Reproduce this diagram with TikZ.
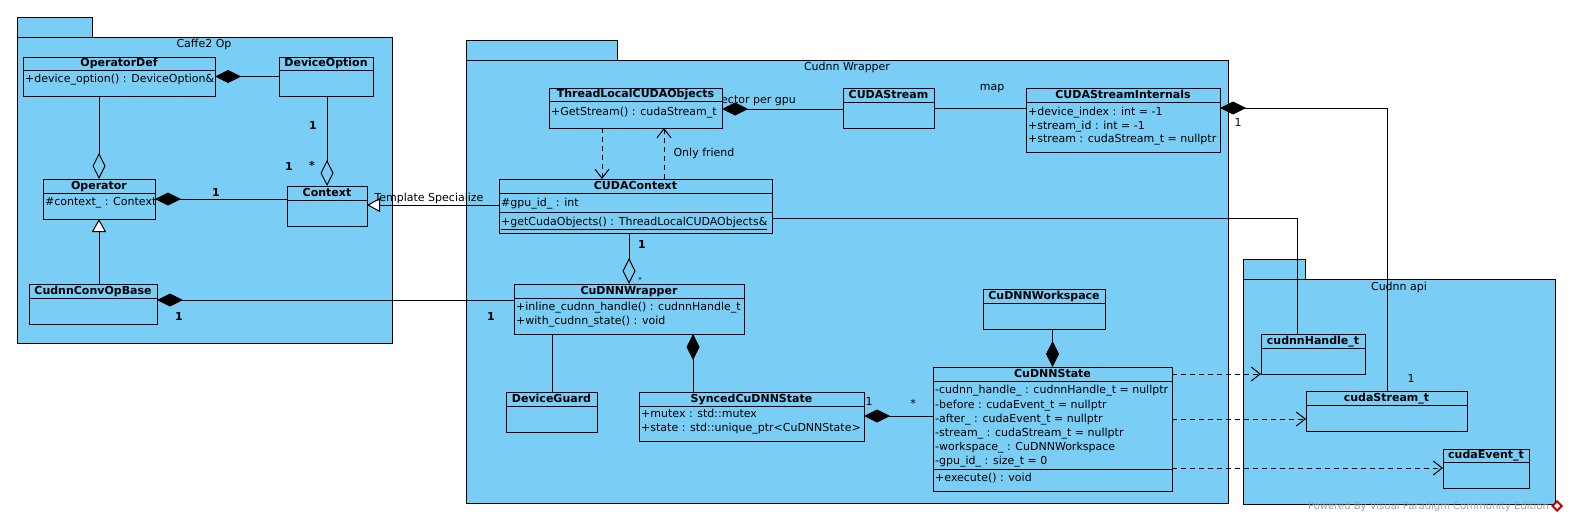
\documentclass[tikz,border=0pt]{standalone}
\usepackage{fontspec}
\setmainfont{DejaVu Sans}
\usetikzlibrary{arrows.meta}
\definecolor{umlblue}{RGB}{122,205,244}
\definecolor{wmgray}{RGB}{160,160,160}
\pgfdeclarelayer{bg}
\pgfdeclarelayer{conn}
\pgfsetlayers{bg,conn,main}
\newcommand\umlclass[7]{%
  \node[clsbox, anchor=north west, minimum width={(#4-#2)*1pt}, minimum height={(#5-#3)*1pt}] (#1) at (#2,#3) {};
  \draw[clsline] (#2,#6) -- (#4,#6);
  \node[clstitle] at ({(#2+#4)/2},{(#3+#6)/2}) {#7};
}
\newcommand\umlline[3]{\node[clstext] at (#1,#2) {#3};}
\tikzset{
  clsbox/.style={draw=black, fill=umlblue, line width=1pt, inner sep=0pt, outer sep=0pt},
  clsline/.style={line width=1pt},
  txt/.style={inner sep=0pt, text height=8pt, text depth=1.5pt},
  clstitle/.style={txt, font=\fontsize{11}{13}\selectfont\bfseries},
  clstext/.style={txt, anchor=west, font=\fontsize{11}{13}\selectfont},
  lbl/.style={txt, font=\fontsize{11}{13}\selectfont},
  mult/.style={txt, font=\fontsize{11}{13}\selectfont\bfseries},
  pkg/.style={draw=black, fill=umlblue, line width=1pt},
  conn/.style={line width=1pt},
  comp/.style={conn, -{Diamond[length=26pt,width=13pt]}},
  agg/.style={conn, -{Diamond[open,length=26pt,width=13pt]}},
  inh/.style={conn, -{Triangle[length=13pt,width=14pt,fill=white]}},
  dep/.style={conn, dash pattern=on 5pt off 4pt, -{Straight Barb[length=9pt,width=14pt]}},
}
\begin{document}
\begin{tikzpicture}[x=1pt,y=-1pt]
\useasboundingbox (0,0) rectangle (1573,522);
% packages
\begin{pgfonlayer}{bg}
\fill[white] (0,0) rectangle (1573,522);
\draw[pkg] (17,17) rectangle (92,37);
\draw[pkg] (17,37) rectangle (392,343);
\node[lbl] (p1title) at (204,44.5) {Caffe2 Op};
\draw[pkg] (466,40) rectangle (617,60);
\draw[pkg] (466,60) rectangle (1228,503);
\node[lbl] (p2title) at (847,67.5) {Cudnn Wrapper};
\draw[pkg] (1243,259) rectangle (1305,279);
\draw[pkg] (1243,279) rectangle (1555,504);
\node[lbl] (p3title) at (1399,287) {Cudnn api};
\end{pgfonlayer}
% classes
\umlclass{opdef}{23}{57}{215}{96}{70}{OperatorDef}
\umlline{25}{79.5}{+device\_option() : DeviceOption\&}
\umlclass{dopt}{279}{57}{373}{96}{70}{DeviceOption}
\umlclass{oper}{43}{179}{155}{219}{193}{Operator}
\umlline{45}{202.5}{\#context\_ : Context}
\umlclass{ctx}{287}{186}{367}{226}{200}{Context}
\umlclass{ccob}{29}{284}{157}{324}{298}{CudnnConvOpBase}
\umlclass{tlco}{549}{88}{722}{128}{101}{ThreadLocalCUDAObjects}
\umlline{551}{112}{+GetStream() : cudaStream\_t}
\umlclass{cstream}{843}{88}{934}{128}{102}{CUDAStream}
\umlclass{csi}{1026}{88}{1220}{152}{102}{CUDAStreamInternals}
\umlline{1028}{112.5}{+device\_index : int = -1}
\umlline{1028}{126}{+stream\_id : int = -1}
\umlline{1028}{139.5}{+stream : cudaStream\_t = nullptr}
\umlclass{cctx}{499}{179}{772}{233}{193}{CUDAContext}
\draw[clsline] (499,212) -- (772,212);
\umlline{501}{203}{\#gpu\_id\_ : int}
\umlline{501}{222}{\underline{+getCudaObjects() : ThreadLocalCUDAObjects\&}}
\umlclass{cwrap}{514}{284}{744}{334}{298}{CuDNNWrapper}
\umlline{516}{307.5}{+inline\_cudnn\_handle() : cudnnHandle\_t}
\umlline{516}{321.5}{+with\_cudnn\_state() : void}
\umlclass{dguard}{506}{392}{597}{432}{406}{DeviceGuard}
\umlclass{sync}{639}{392}{864}{441}{406}{SyncedCuDNNState}
\umlline{641}{414.5}{+mutex : std::mutex}
\umlline{641}{428.5}{+state : std::unique\_ptr<CuDNNState>}
\umlclass{wksp}{983}{289}{1105}{329}{303}{CuDNNWorkspace}
\umlclass{cstate}{933}{367}{1172}{491}{381}{CuDNNState}
\draw[clsline] (933,469) -- (1172,469);
\umlline{935}{390.5}{-cudnn\_handle\_ : cudnnHandle\_t = nullptr}
\umlline{935}{405}{-before : cudaEvent\_t = nullptr}
\umlline{935}{419}{-after\_ : cudaEvent\_t = nullptr}
\umlline{935}{433}{-stream\_ : cudaStream\_t = nullptr}
\umlline{935}{447}{-workspace\_ : CuDNNWorkspace}
\umlline{935}{461.5}{-gpu\_id\_ : size\_t = 0}
\umlline{935}{478.5}{+execute() : void}
\umlclass{chandle}{1261}{334}{1365}{374}{348}{cudnnHandle\_t}
\umlclass{cstr}{1306}{391}{1467}{431}{405}{cudaStream\_t}
\umlclass{cevent}{1443}{449}{1529}{488}{462}{cudaEvent\_t}
% connectors
\begin{pgfonlayer}{conn}
\draw[comp] (dopt.west) -- (opdef.east);
\draw[agg] (opdef.south -| oper.north) -- (oper.north);
\draw[agg] (dopt.south -| ctx.north) -- (ctx.north);
\draw[comp] (ctx.west |- oper.east) -- (oper.east);
\draw[inh] (ccob.north -| oper.south) -- (oper.south);
\draw[comp] (cwrap.west |- 0,300) -- (ccob.east |- 0,300);
\draw[inh] (cctx.west |- 0,205) -- (ctx.east |- 0,205);
\node[lbl, anchor=east] (vpg) at (796,100) {vector per gpu};
\draw[comp] (cstream.west |- 0,109) -- (tlco.east |- 0,109);
\draw[conn] (cstream.east |- 0,108) -- (csi.west |- 0,108);
\draw[comp] (cstr.north -| 1387,0) |- (csi.east |- 0,108);
\draw[dep] (tlco.south -| 602,0) -- (cctx.north -| 602,0);
\draw[dep] (cctx.north -| 664,0) -- (tlco.south -| 664,0);
\draw[conn] (cctx.east |- 0,218) -| (chandle.north -| 1297,0);
\draw[agg] (cctx.south -| 629,0) -- (cwrap.north -| 629,0);
\draw[conn] (cwrap.south -| 552,0) -- (dguard.north -| 552,0);
\draw[comp] (sync.north -| 693,0) -- (cwrap.south -| 693,0);
\draw[comp] (cstate.west |- 0,416) -- (sync.east |- 0,416);
\draw[comp] (wksp.south -| cstate.north) -- (cstate.north);
\draw[dep] (cstate.east |- 0,374) -- (chandle.west |- 0,374);
\draw[dep] (cstate.east |- 0,419) -- (cstr.west |- 0,419);
\draw[dep] (cstate.east |- 0,468) -- (cevent.west |- 0,468);
\end{pgfonlayer}
% labels
\node[mult] (m1) at (313,126) {1};
\node[mult] (m2) at (289,167) {1};
\node[mult] (m3) at (312,166) {*};
\node[mult] (m4) at (216,193) {1};
\node[mult] (m5) at (179,317) {1};
\node[mult] (m6) at (491,317) {1};
\node[mult] (m7) at (642,245) {1};
\node[txt, font=\fontsize{7}{8}\selectfont] (m8) at (640,279) {*};
\node[lbl] (m9) at (869,402) {1};
\node[lbl] (m10) at (913,404) {*};
\node[lbl] (m11) at (1238,123) {1};
\node[lbl] (m12) at (1411,379) {1};
\node[lbl] (tspec) at (429,198) {Template Specialize};
\node[lbl] (ofriend) at (704,153) {Only friend};
\node[lbl] (mapl) at (992,87) {map};
% watermark
\node[txt, anchor=east, text=wmgray, font=\fontsize{10}{12}\selectfont] (wm) at (1549,506) {Powered By Visual Paradigm Community Edition};
\fill[red!75!black] (1557,500) -- (1563,506) -- (1557,512) -- (1551,506) -- cycle;
\fill[white] (1557,503) -- (1560,506) -- (1557,509) -- (1554,506) -- cycle;
\end{tikzpicture}
\end{document}
